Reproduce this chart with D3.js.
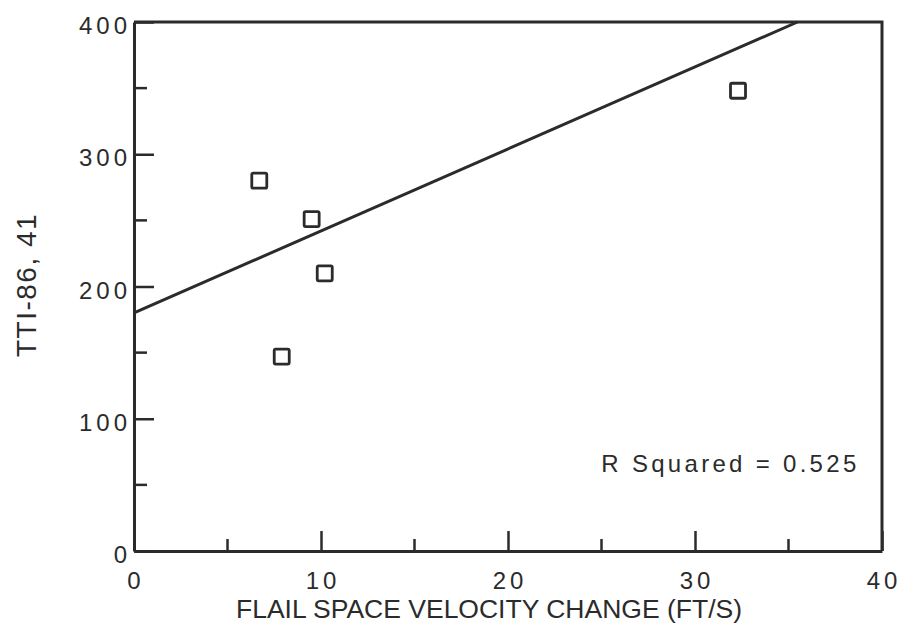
<!DOCTYPE html>
<html>
<head>
<meta charset="utf-8">
<script src="https://cdn.jsdelivr.net/npm/d3@7"></script>
<style>
  html, body { margin: 0; padding: 0; background: #fff; overflow: hidden; }
  svg { display: block; }
  text { font-family: "Liberation Sans", Arial, sans-serif; fill: #2b2b2b; }
</style>
</head>
<body>
<div id="chart"></div>
<script>
// data
const velocity = [6.7, 7.9, 9.5, 10.2, 32.3];
const tti = [280, 147, 251, 210, 348];
const fitIntercept = 180;
const fitSlope = 6.2;
const xTicks = [0, 10, 20, 30, 40];
const xMinor = [5, 15, 25, 35];
const yTicks = [0, 100, 200, 300, 400];
const yMinor = [50, 150, 250, 350];
const rSquaredLabel = "R Squared = 0.525";

const width = 900, height = 630;
const margin = {top: 22, right: 18, bottom: 79, left: 134};
const innerWidth = width - margin.left - margin.right;
const innerHeight = height - margin.top - margin.bottom;
const ink = "#2b2b2b";

const svg = d3.select("#chart").append("svg")
  .attr("width", width)
  .attr("height", height);

const g = svg.append("g")
  .attr("transform", "translate(" + margin.left + "," + margin.top + ")");

const xScale = d3.scaleLinear().domain([0, 40]).range([0, innerWidth]);
const yScale = d3.scaleLinear().domain([0, 400]).range([innerHeight, 0]);

// ticks point inward, major longer than minor
const xAxis = d3.axisBottom(xScale).tickValues(xTicks).tickSizeInner(-20).tickSizeOuter(0);
const yAxis = d3.axisLeft(yScale).tickValues(yTicks).tickSizeInner(-20).tickSizeOuter(0);

const xG = g.append("g").attr("class", "x-axis")
  .attr("transform", "translate(0," + innerHeight + ")")
  .call(xAxis);
xG.selectAll("text").remove(); // labels drawn below with spacing
const yG = g.append("g").attr("class", "y-axis").call(yAxis);
yG.selectAll("text").remove();

// minor ticks
g.append("g").selectAll("line").data(xMinor).join("line")
  .attr("x1", d => xScale(d)).attr("x2", d => xScale(d))
  .attr("y1", innerHeight).attr("y2", innerHeight - 12);
g.append("g").selectAll("line").data(yMinor).join("line")
  .attr("x1", 0).attr("x2", 13)
  .attr("y1", d => yScale(d)).attr("y2", d => yScale(d));

g.selectAll("line").attr("stroke", ink).attr("stroke-width", 2.5);
g.selectAll(".domain").attr("stroke", ink).attr("stroke-width", 3);

// top and right border
g.append("path")
  .attr("d", "M0,0H" + innerWidth + "V" + innerHeight)
  .attr("fill", "none")
  .attr("stroke", ink)
  .attr("stroke-width", 3);

// tick labels
g.append("g").selectAll("text").data(xTicks).join("text")
  .attr("x", d => xScale(d) + 2)
  .attr("y", innerHeight + 38)
  .attr("text-anchor", "middle")
  .attr("font-size", 24)
  .attr("letter-spacing", 4)
  .text(d => d);

g.append("g").selectAll("text").data(yTicks).join("text")
  .attr("x", -3)
  .attr("y", d => yScale(d) + 12)
  .attr("text-anchor", "end")
  .attr("font-size", 24)
  .attr("letter-spacing", 4)
  .text(d => d);

// fit line, stops at the top of the frame
const fitEndX = Math.min(40, (400 - fitIntercept) / fitSlope);
const line = d3.line().x(d => xScale(d[0])).y(d => yScale(d[1]));
g.append("path")
  .datum([[0, fitIntercept], [fitEndX, fitIntercept + fitSlope * fitEndX]])
  .attr("d", line)
  .attr("fill", "none")
  .attr("stroke", ink)
  .attr("stroke-width", 3);

// square markers
const side = 15;
g.append("g").selectAll("rect").data(velocity).join("rect")
  .attr("x", d => xScale(d) - side / 2)
  .attr("y", (d, i) => yScale(tti[i]) - side / 2)
  .attr("width", side)
  .attr("height", side)
  .attr("rx", 1.5)
  .attr("fill", "none")
  .attr("stroke", ink)
  .attr("stroke-width", 2.8);

// annotation
g.append("text")
  .attr("x", xScale(38.8))
  .attr("y", yScale(60))
  .attr("text-anchor", "end")
  .attr("font-size", 24)
  .attr("letter-spacing", 3.3)
  .text(rSquaredLabel);

// axis titles
svg.append("text")
  .attr("x", 489)
  .attr("y", 618)
  .attr("text-anchor", "middle")
  .attr("font-size", 26.5)
  .text("FLAIL SPACE VELOCITY CHANGE (FT/S)");

svg.append("text")
  .attr("transform", "translate(36,285) rotate(-90)")
  .attr("text-anchor", "middle")
  .attr("font-size", 28)
  .attr("letter-spacing", 1.5)
  .text("TTI-86, 41");
</script>
</body>
</html>
